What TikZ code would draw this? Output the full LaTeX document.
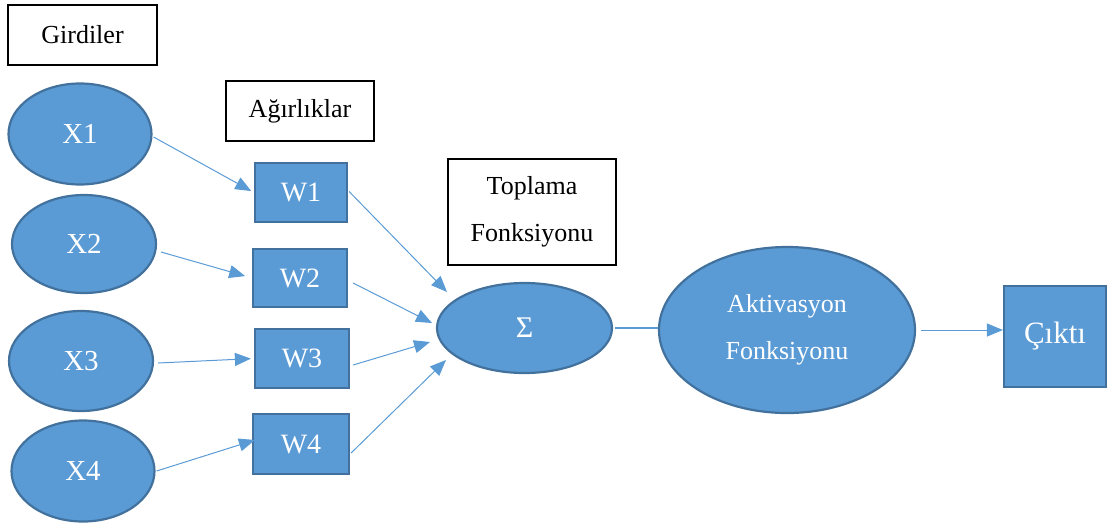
\documentclass[tikz,border=0pt]{standalone}
\usepackage{fontspec}
\setmainfont{Liberation Serif}
\usetikzlibrary{shapes.geometric,arrows.meta,calc}
\definecolor{bfill}{HTML}{5B9BD5}
\definecolor{bdraw}{HTML}{41719C}
\definecolor{lcol}{HTML}{5B9BD5}
\tikzset{
  inel/.style={ellipse,fill=bfill,draw=bdraw,line width=2.2pt,inner sep=0pt,text=white,font=\fontsize{29}{34}\selectfont},
  wbox/.style={rectangle,fill=bfill,draw=bdraw,line width=2.2pt,inner sep=0pt,text=white,font=\fontsize{28}{34}\selectfont},
  lbl/.style={rectangle,draw=black,line width=1.2pt,inner sep=0pt,align=center,font=\fontsize{26}{47}\selectfont},
  conn/.style={draw=lcol,line width=1pt,-{Triangle[length=16pt,width=13pt]}},
  plain/.style={draw=lcol,line width=1.2pt}
}
\begin{document}
\begin{tikzpicture}[x=1pt,y=-1pt]
\useasboundingbox (0,0) rectangle (1107,523);
% labels
\node[lbl,minimum width=149,minimum height=60] (gir) at (82.5,35) {Girdiler};
\node[lbl,minimum width=148,minimum height=60] (agr) at (300,111) {Ağırlıklar};
\node[lbl,minimum width=168,minimum height=106] (top) at (532,212) {Toplama\\Fonksiyonu};
% inputs
\node[inel,minimum width=143,minimum height=101] (X1) at (80,134) {X1};
\node[inel,minimum width=144,minimum height=98] (X2) at (84,244) {X2};
\node[inel,minimum width=144,minimum height=100] (X3) at (81,361) {X3};
\node[inel,minimum width=143,minimum height=101] (X4) at (83,471) {X4};
% weights
\node[wbox,minimum width=92,minimum height=59] (W1) at (301,192.5) {W1};
\node[wbox,minimum width=94,minimum height=58] (W2) at (300,278) {W2};
\node[wbox,minimum width=94,minimum height=59] (W3) at (302,358.5) {W3};
\node[wbox,minimum width=96,minimum height=60] (W4) at (301,444) {W4};
% sum
\node[inel,minimum width=175,minimum height=90,font=\fontsize{30}{34}\selectfont] (S) at (524.5,328) {Σ};
% activation
\node[inel,minimum width=256,minimum height=166,align=center,font=\fontsize{26}{47}\selectfont] (A) at (787,330) {Aktivasyon\\Fonksiyonu};
% output
\node[wbox,minimum width=102,minimum height=101,font=\fontsize{31}{36}\selectfont] (C) at (1055,336.5) {Çıktı};
% target points near sum node
\coordinate (t1) at ([shift={(-77.5,-36)}]S.center);
\coordinate (t2) at ([shift={(-92.5,-5)}]S.center);
\coordinate (t3) at ([shift={(-94.5,14)}]S.center);
\coordinate (t4) at ([shift={(-78.5,32)}]S.center);
% input -> weight
\draw[conn,shorten >=3pt] ([shift={(1,3)}]X1.east) -- (W1.west);
\draw[conn,shorten >=7pt] ([shift={(4,8)}]X2.east) -- (W2.west);
\draw[conn,shorten >=3pt] ([shift={(4,2)}]X3.east) -- (W3.west);
\draw[conn] ([shift={(1,0)}]X4.east) -- ([shift={(3,-4)}]W4.west);
% weight -> sum
\draw[conn] ([shift={(1,-1)}]W1.east) -- (t1);
\draw[conn] ([shift={(5,5)}]W2.east) -- (t2);
\draw[conn] ([shift={(3,6.5)}]W3.east) -- (t3);
\draw[conn] ([shift={(1,9)}]W4.east) -- (t4);
% sum -> activation
\draw[plain] ([shift={(2,0)}]S.east) -- (A.west |- S.east);
% activation -> output
\draw[conn] ([shift={(5,0)}]A.east) -- (C.west |- A.east);
\end{tikzpicture}
\end{document}
